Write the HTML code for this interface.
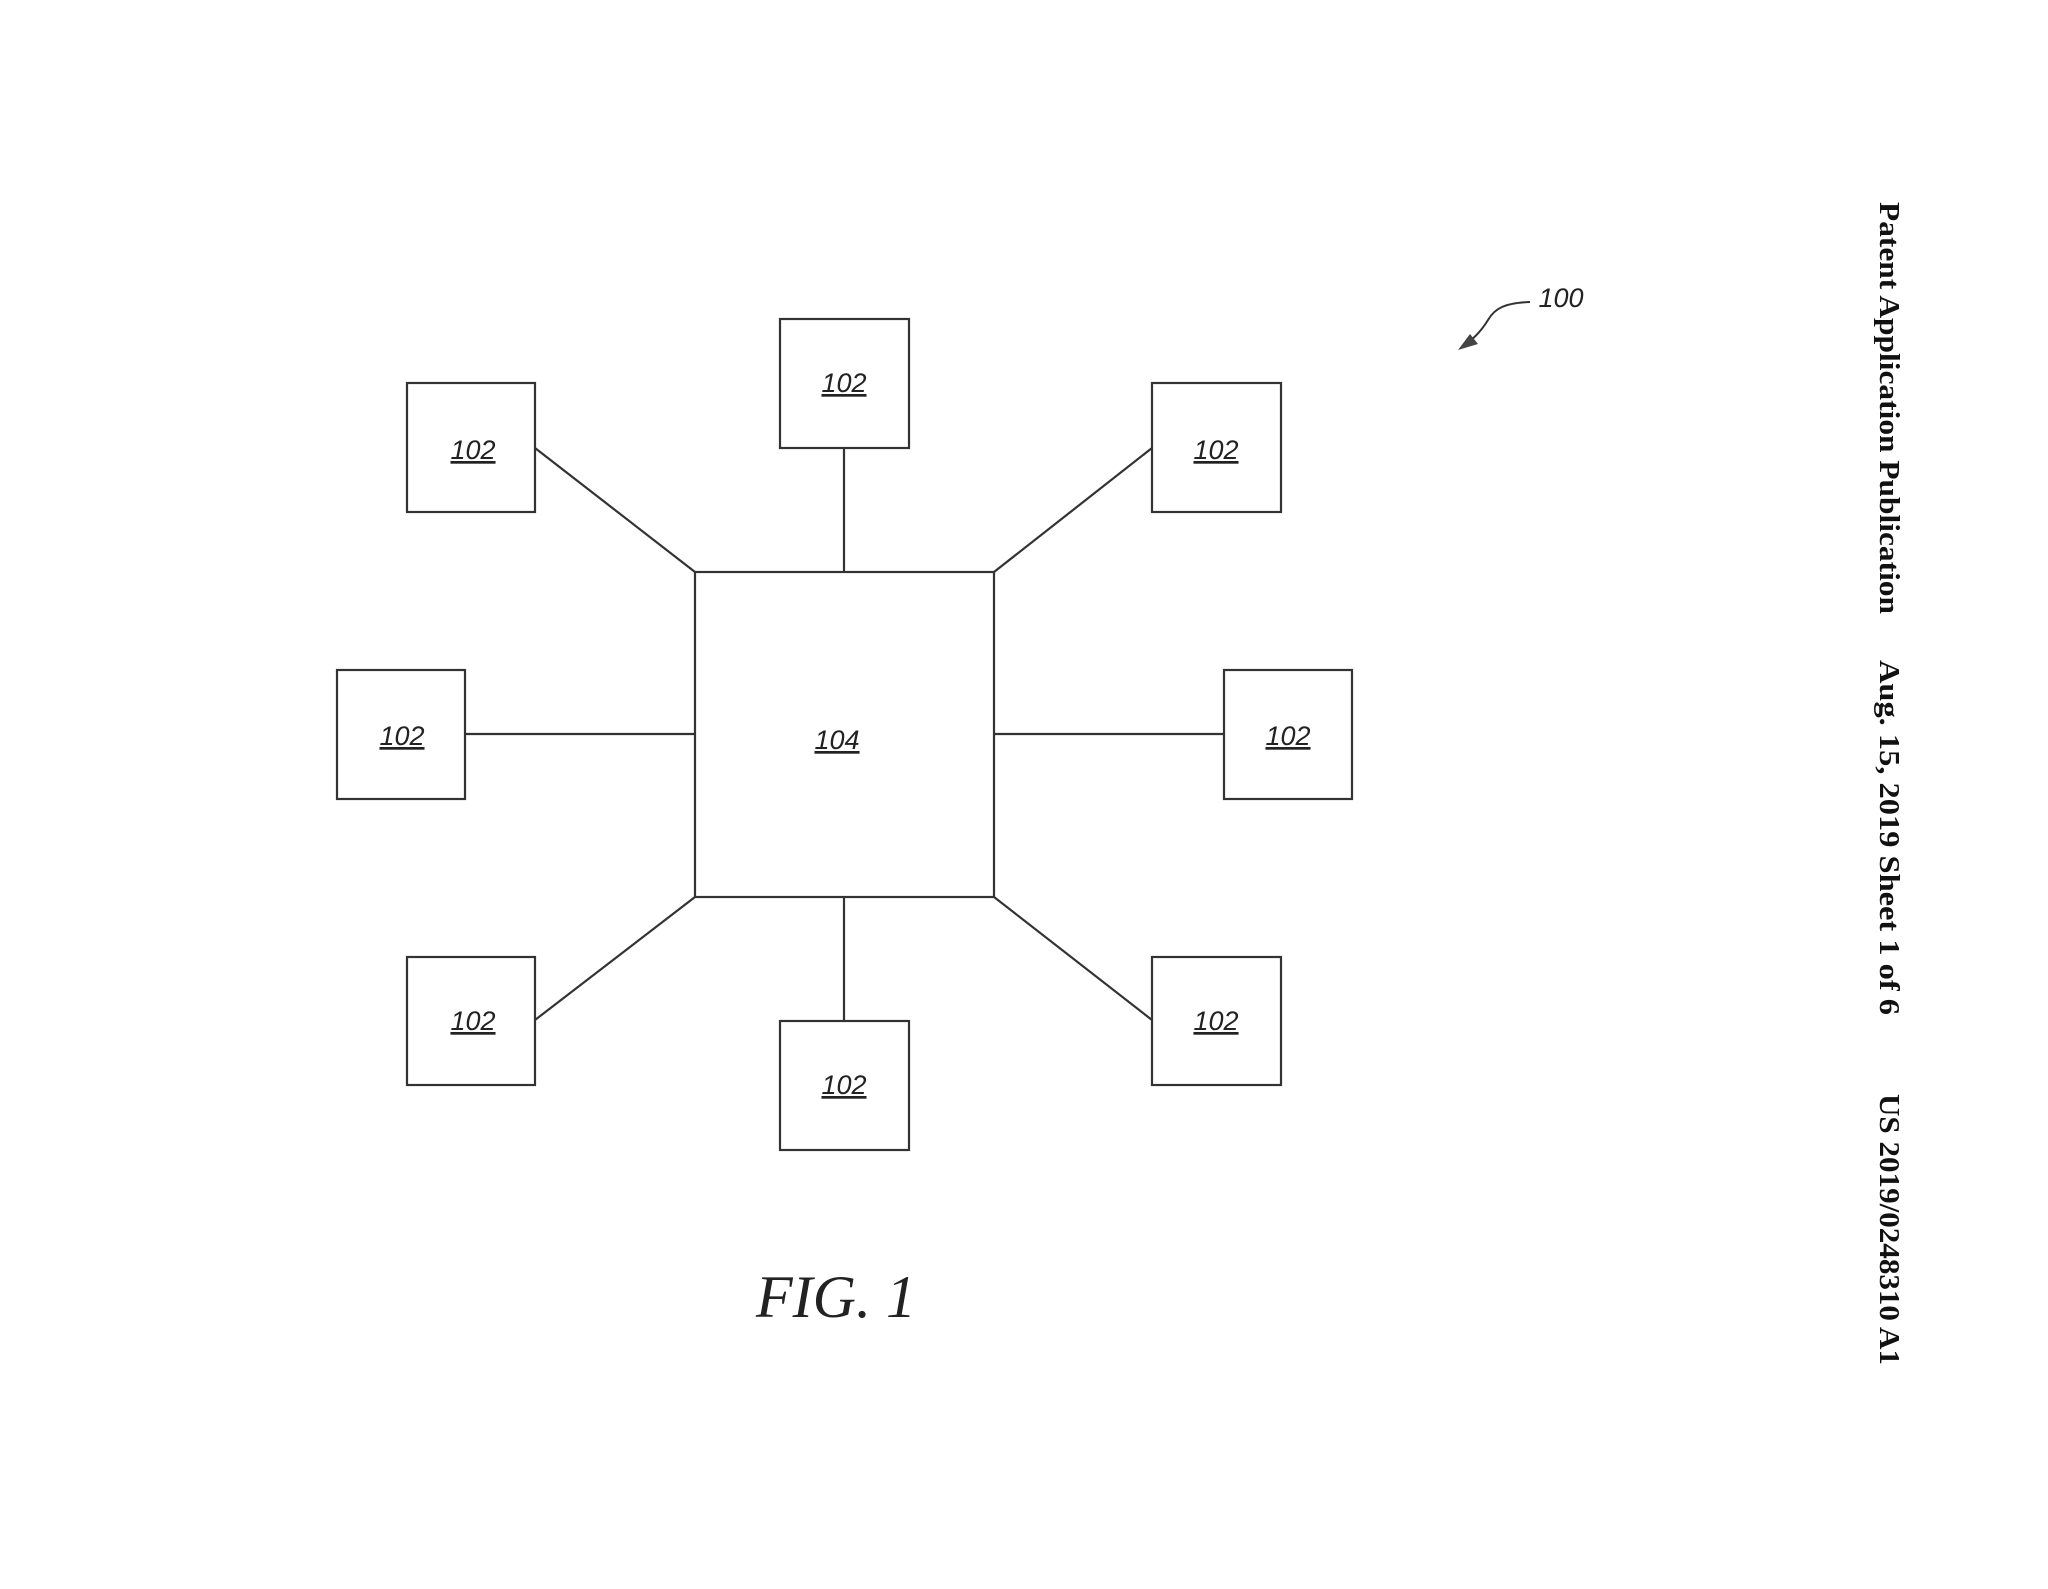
<!DOCTYPE html>
<html><head><meta charset="utf-8"><style>
html,body{margin:0;padding:0;background:#fff;}
svg{display:block;}
</style></head><body>
<svg width="2048" height="1589" viewBox="0 0 2048 1589" xmlns="http://www.w3.org/2000/svg">
<rect width="2048" height="1589" fill="#fff"/>
<g fill="none" stroke="#333" stroke-width="2.2">
<rect x="780" y="319" width="129" height="129"/>
<rect x="407" y="383" width="128" height="129"/>
<rect x="1152" y="383" width="129" height="129"/>
<rect x="337" y="670" width="128" height="129"/>
<rect x="1224" y="670" width="128" height="129"/>
<rect x="407" y="957" width="128" height="128"/>
<rect x="1152" y="957" width="129" height="128"/>
<rect x="780" y="1021" width="129" height="129"/>
<rect x="695" y="572" width="299" height="325"/>
<line x1="535" y1="448" x2="695" y2="572"/>
<line x1="844" y1="448" x2="844" y2="572"/>
<line x1="1152" y1="448" x2="994" y2="572"/>
<line x1="465" y1="734" x2="695" y2="734"/>
<line x1="994" y1="734" x2="1224" y2="734"/>
<line x1="535" y1="1020" x2="695" y2="897"/>
<line x1="844" y1="897" x2="844" y2="1021"/>
<line x1="994" y1="897" x2="1152" y2="1020"/>
<path d="M1530 302 C1505 303 1495 308 1488 320 C1480 333 1472 340 1462 347" stroke-width="2"/>
</g>
<path d="M1458 350 L1470 334 L1478 344 Z" fill="#444"/>
<g font-family="Liberation Sans, sans-serif" font-style="italic" font-size="27" fill="#222" text-anchor="middle" text-decoration="underline">
<text x="844" y="392">102</text>
<text x="473" y="459">102</text>
<text x="1216" y="459">102</text>
<text x="402" y="745">102</text>
<text x="1288" y="745">102</text>
<text x="473" y="1030">102</text>
<text x="1216" y="1030">102</text>
<text x="844" y="1094">102</text>
<text x="837" y="749">104</text>
</g>
<text x="1561" y="307" font-family="Liberation Sans, sans-serif" font-style="italic" font-size="27" fill="#222" text-anchor="middle">100</text>
<text x="836" y="1317" font-family="Liberation Serif, serif" font-style="italic" font-size="60" fill="#222" text-anchor="middle">FIG. 1</text>
<g transform="translate(1880,0) rotate(90)" font-family="Liberation Serif, serif" font-weight="bold" font-size="29" fill="#111">
<text x="202" y="0" textLength="412" lengthAdjust="spacingAndGlyphs">Patent Application Publication</text>
<text x="660" y="0" textLength="355" lengthAdjust="spacingAndGlyphs">Aug. 15, 2019  Sheet 1 of 6</text>
<text x="1094" y="0" textLength="271" lengthAdjust="spacingAndGlyphs">US 2019/0248310 A1</text>
</g>
</svg>
</body></html>
